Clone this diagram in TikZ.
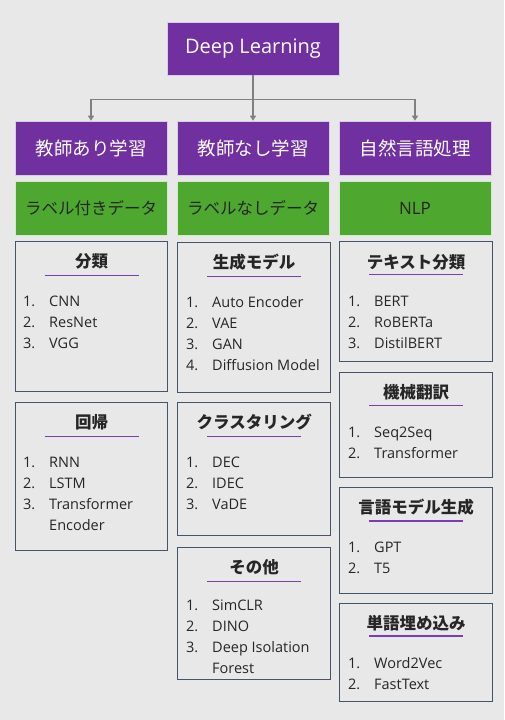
\documentclass[tikz,border=0pt]{standalone}
\usepackage{fontspec}
\setmainfont{Open Sans}
\newfontfamily\jp{Noto Sans CJK JP}
\usetikzlibrary{arrows.meta}

\definecolor{bg}{HTML}{E8E8E8}
\definecolor{dlpurple}{HTML}{7030A0}
\definecolor{dlgreen}{HTML}{4EA72E}
\definecolor{frame}{HTML}{44546A}
\definecolor{linkgray}{HTML}{808080}
\definecolor{ulcolor}{HTML}{7A3DB8}
\definecolor{ink}{HTML}{262626}

\newcommand\itemfont{\fontsize{14.5}{21}\selectfont}

\tikzset{
  headbox/.style={fill=dlpurple, draw=white!75!dlpurple, line width=0.6pt,
    text=white, inner sep=0, minimum height=54pt, minimum width=152pt,
    font=\jp\fontsize{18.5}{22}\selectfont},
  databox/.style={fill=dlgreen, draw=white!75!dlgreen, line width=0.6pt,
    text=ink, inner sep=0, minimum height=54pt, minimum width=152pt,
    font=\jp\fontsize{16.5}{20}\selectfont},
  panel/.style={draw=frame, line width=1.4pt, inner sep=0, anchor=north west},
  ptitle/.style={font=\jp\bfseries\fontsize{16.5}{20}\selectfont, text=ink, inner sep=0},
  uline/.style={draw=ulcolor, line width=1.6pt},
  items/.style={anchor=base west, inner sep=0, text=ink, font=\itemfont},
  link/.style={draw=linkgray, line width=1.4pt,
    -{Triangle[width=6pt,length=5pt]}}
}

\newenvironment{numlist}{\begin{tabular}[t]{@{}p{26pt}@{}l@{}}}{\end{tabular}}

\begin{document}
\begin{tikzpicture}[x=1pt,y=-1pt]
  % canvas
  \fill[bg] (0,0) rectangle (504,720);
  \useasboundingbox (0,0) rectangle (504,720);

  % root
  \node[headbox, minimum width=172pt, minimum height=53pt,
        font=\fontsize{20}{24}\selectfont] (dl) at (253,48.5) {Deep Learning};

  % categories
  \node[headbox] (sup)   at (91,148)  {教師あり学習};
  \node[headbox] (unsup) at (253,148) {教師なし学習};
  \node[headbox] (nlp)   at (415,148) {自然言語処理};

  \node[databox] (dsup)   at (91,208)  {ラベル付きデータ};
  \node[databox] (dunsup) at (253,208) {ラベルなしデータ};
  \node[databox, font=\fontsize{17}{20}\selectfont] (dnlp) at (415,208) {NLP};

  % tree links
  \draw[link] (dl.south) -- ([yshift=-24pt]dl.south) -| (sup.north);
  \draw[link] (dl.south) -- (unsup.north);
  \draw[link] (dl.south) -- ([yshift=-24pt]dl.south) -| (nlp.north);

  % ---------- supervised column ----------
  \node[panel, minimum width=152pt, minimum height=150pt] (pcls) at (15,241) {};
  \node[ptitle] (tcls) at ([yshift=-20pt]pcls.north) {分類};
  \draw[uline] ([xshift=-47pt,yshift=-14.5pt]tcls.center) -- ([xshift=47pt,yshift=-14.5pt]tcls.center);
  \node[items] (lcls) at ([xshift=8pt,yshift=-65pt]pcls.north west)
    {\begin{numlist}1.&CNN\\2.&ResNet\\3.&VGG\end{numlist}};

  \node[panel, minimum width=152pt, minimum height=148pt] (preg) at (15,402) {};
  \node[ptitle] (treg) at ([yshift=-20pt]preg.north) {回帰};
  \draw[uline] ([xshift=-47pt,yshift=-14.5pt]treg.center) -- ([xshift=47pt,yshift=-14.5pt]treg.center);
  \node[items] (lreg) at ([xshift=8pt,yshift=-65pt]preg.north west)
    {\begin{numlist}1.&RNN\\2.&LSTM\\3.&Transformer\\&Encoder\end{numlist}};

  % ---------- unsupervised column ----------
  \node[panel, minimum width=153pt, minimum height=150pt] (pgen) at (177,242) {};
  \node[ptitle] (tgen) at ([yshift=-20pt]pgen.north) {生成モデル};
  \draw[uline] ([xshift=-47pt,yshift=-14.5pt]tgen.center) -- ([xshift=47pt,yshift=-14.5pt]tgen.center);
  \node[items] (lgen) at ([xshift=9pt,yshift=-65pt]pgen.north west)
    {\begin{numlist}1.&Auto Encoder\\2.&VAE\\3.&GAN\\4.&Diffusion Model\end{numlist}};

  \node[panel, minimum width=153pt, minimum height=133pt] (pclu) at (177,402) {};
  \node[ptitle] (tclu) at ([yshift=-20pt]pclu.north) {クラスタリング};
  \draw[uline] ([xshift=-47pt,yshift=-14.5pt]tclu.center) -- ([xshift=47pt,yshift=-14.5pt]tclu.center);
  \node[items] (lclu) at ([xshift=9pt,yshift=-65pt]pclu.north west)
    {\begin{numlist}1.&DEC\\2.&IDEC\\3.&VaDE\end{numlist}};

  \node[panel, minimum width=153pt, minimum height=132pt] (poth) at (177,547) {};
  \node[ptitle] (toth) at ([yshift=-20pt]poth.north) {その他};
  \draw[uline] ([xshift=-47pt,yshift=-14.5pt]toth.center) -- ([xshift=47pt,yshift=-14.5pt]toth.center);
  \node[items] (loth) at ([xshift=9pt,yshift=-63pt]poth.north west)
    {\begin{numlist}1.&SimCLR\\2.&DINO\\3.&Deep Isolation\\&Forest\end{numlist}};

  % ---------- NLP column ----------
  \node[panel, minimum width=153pt, minimum height=120pt] (ptxt) at (339,241) {};
  \node[ptitle] (ttxt) at ([yshift=-21pt]ptxt.north) {テキスト分類};
  \draw[uline] ([xshift=-47pt,yshift=-12.5pt]ttxt.center) -- ([xshift=47pt,yshift=-12.5pt]ttxt.center);
  \node[items] (ltxt) at ([xshift=9pt,yshift=-65pt]ptxt.north west)
    {\begin{numlist}1.&BERT\\2.&RoBERTa\\3.&DistilBERT\end{numlist}};

  \node[panel, minimum width=153pt, minimum height=105pt] (pmt) at (339,372) {};
  \node[ptitle] (tmt) at ([yshift=-20pt]pmt.north) {機械翻訳};
  \draw[uline] ([xshift=-47pt,yshift=-13.5pt]tmt.center) -- ([xshift=47pt,yshift=-13.5pt]tmt.center);
  \node[items] (lmt) at ([xshift=9pt,yshift=-65pt]pmt.north west)
    {\begin{numlist}1.&Seq2Seq\\2.&Transformer\end{numlist}};

  \node[panel, minimum width=153pt, minimum height=106pt] (plm) at (339,487) {};
  \node[ptitle] (tlm) at ([yshift=-20pt]plm.north) {言語モデル生成};
  \draw[uline] ([xshift=-47pt,yshift=-14pt]tlm.center) -- ([xshift=47pt,yshift=-14pt]tlm.center);
  \node[items] (llm) at ([xshift=9pt,yshift=-65pt]plm.north west)
    {\begin{numlist}1.&GPT\\2.&T5\end{numlist}};

  \node[panel, minimum width=153pt, minimum height=98pt] (pemb) at (339,603) {};
  \node[ptitle] (temb) at ([yshift=-20pt]pemb.north) {単語埋め込み};
  \draw[uline] ([xshift=-47pt,yshift=-13pt]temb.center) -- ([xshift=47pt,yshift=-13pt]temb.center);
  \node[items] (lemb) at ([xshift=9pt,yshift=-65pt]pemb.north west)
    {\begin{numlist}1.&Word2Vec\\2.&FastText\end{numlist}};
\end{tikzpicture}
\end{document}
